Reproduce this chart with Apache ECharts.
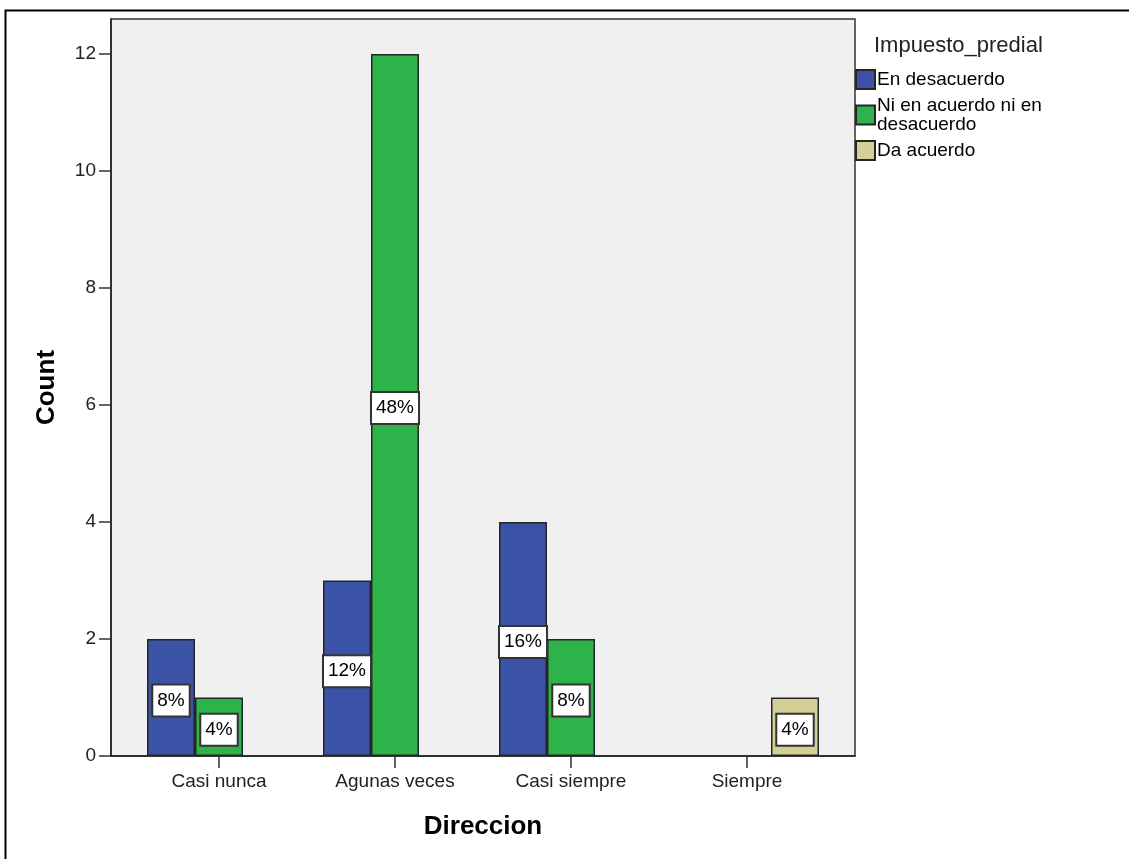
<!DOCTYPE html>
<html>
<head>
<meta charset="utf-8">
<script src="https://cdn.jsdelivr.net/npm/echarts@6/dist/echarts.min.js"></script>
<style>
html,body{margin:0;padding:0;background:#fff;}
#c{width:1129px;height:859px;}
</style>
</head>
<body>
<div id="c"></div>
<script>
var categories = ['Casi nunca', 'Agunas veces', 'Casi siempre', 'Siempre'];
var seriesNames = ['En desacuerdo', 'Ni en acuerdo ni en\ndesacuerdo', 'Da acuerdo'];
var enDesacuerdo = [2, 3, 4, null];
var niNi = [1, 12, 2, null];
var daAcuerdo = [null, null, null, 1];
var yTicks = [0, 2, 4, 6, 8, 10, 12];
var legendTitle = 'Impuesto_predial';
var xTitle = 'Direccion';
var yTitle = 'Count';

var FONT = '"Liberation Sans", Arial, sans-serif';
var total = 0;
[enDesacuerdo, niNi, daAcuerdo].forEach(function (a) { a.forEach(function (v) { if (v != null) total += v; }); });

var colors = ['#3b53a6', '#2db34a', '#d4cf97'];

function mkSeries(name, data, color) {
  return {
    type: 'bar', name: name, data: data,
    xAxisIndex: 1, yAxisIndex: 1,
    barWidth: 48, barGap: '0%',
    itemStyle: { color: color, borderColor: '#262626', borderWidth: 1.5 },
    label: {
      show: true, position: 'inside', offset: [0, 3],
      formatter: function (p) { return Math.round(p.value / total * 100) + '%'; },
      fontFamily: FONT, fontSize: 19, lineHeight: 20, color: '#000',
      backgroundColor: '#fff', borderColor: '#333', borderWidth: 2,
      padding: [5, 4, 5, 4]
    },
    emphasis: { disabled: true },
    animation: false
  };
}

var chart = echarts.init(document.getElementById('c'), null, { renderer: 'canvas' });
chart.setOption({
  animation: false,
  title: {
    text: legendTitle, left: 869, top: 30,
    textStyle: { fontFamily: FONT, fontSize: 22, fontWeight: 'normal', color: '#222' }
  },
  legend: {
    orient: 'vertical', left: 855, top: 69, padding: 0,
    itemWidth: 19, itemHeight: 19, itemGap: 6,
    icon: 'rect',
    selectedMode: false,
    textStyle: { fontFamily: FONT, fontSize: 19, lineHeight: 19, color: '#000', padding: [0, 0, 0, -3] },
    data: seriesNames
  },
  graphic: [{
    type: 'polyline', silent: true,
    shape: { points: [[5.5, 859], [5.5, 10.5], [1129, 10.5]] },
    style: { stroke: '#000', lineWidth: 2, fill: null }
  }],
  grid: [
    { left: 111, top: 19, width: 744, height: 737, show: true, backgroundColor: '#f0f0f0', borderColor: '#333', borderWidth: 1.5 },
    { left: 131, top: 19, width: 704, height: 737 }
  ],
  xAxis: [
    {
      type: 'value', gridIndex: 0, min: 0, max: 1,
      axisLine: { show: true, lineStyle: { color: '#222', width: 1.5 } },
      axisTick: { show: false }, axisLabel: { show: false }, splitLine: { show: false },
      name: xTitle, nameLocation: 'middle', nameGap: 58,
      nameTextStyle: { fontFamily: FONT, fontSize: 26, fontWeight: 'bold', color: '#000' }
    },
    {
      type: 'category', gridIndex: 1, data: categories,
      axisLine: { show: false },
      axisTick: { show: true, alignWithLabel: true, length: 12, lineStyle: { color: '#333', width: 1.5 } },
      axisLabel: { fontFamily: FONT, fontSize: 19, color: '#222', margin: 16 },
      splitLine: { show: false }
    }
  ],
  yAxis: [
    {
      type: 'value', gridIndex: 0, min: 0, max: 12.6, interval: 2,
      axisLine: { show: true, lineStyle: { color: '#222', width: 1.5 } },
      axisTick: { show: true, length: 12, customValues: yTicks, lineStyle: { color: '#333', width: 1.5 } },
      axisLabel: { fontFamily: FONT, fontSize: 19, color: '#222', margin: 15, customValues: yTicks },
      splitLine: { show: false },
      name: yTitle, nameLocation: 'middle', nameGap: 51, nameRotate: 90,
      nameTextStyle: { fontFamily: FONT, fontSize: 26, fontWeight: 'bold', color: '#000' }
    },
    {
      type: 'value', gridIndex: 1, min: 0, max: 12.6, show: false,
      splitLine: { show: false }
    }
  ],
  series: [
    mkSeries(seriesNames[0], enDesacuerdo, colors[0]),
    mkSeries(seriesNames[1], niNi, colors[1]),
    mkSeries(seriesNames[2], daAcuerdo, colors[2])
  ]
});
</script>
</body>
</html>
